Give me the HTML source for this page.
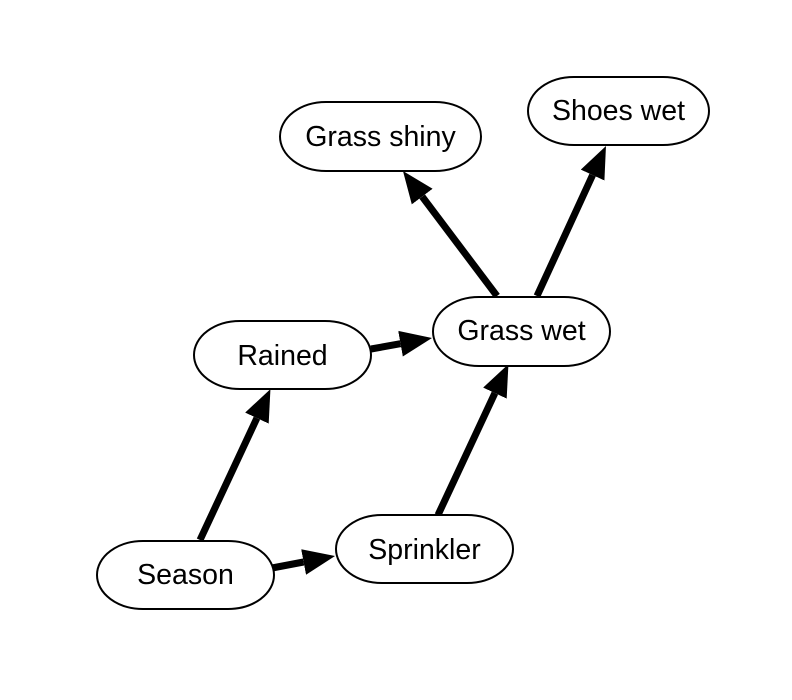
<!DOCTYPE html>
<html><head><meta charset="utf-8"><style>
html,body{margin:0;padding:0;background:#fff;}
svg{display:block;}
text{font-family:"Liberation Sans",sans-serif;font-size:28.5px;fill:#000;}
</style></head><body>
<svg width="792" height="700" viewBox="0 0 792 700" xmlns="http://www.w3.org/2000/svg">
<defs>
<marker id="a" markerUnits="userSpaceOnUse" markerWidth="34" markerHeight="30" refX="0" refY="15" orient="auto">
<path d="M0,2 L32,15 L0,28 z" fill="#000"/>
</marker>
</defs>
<g stroke="#000" stroke-width="7" marker-end="url(#a)">
<line x1="200" y1="540" x2="256.9" y2="418.1"/>
<line x1="272" y1="568" x2="303.6" y2="562"/>
<line x1="438" y1="515" x2="494.9" y2="393.1"/>
<line x1="371" y1="349" x2="400.5" y2="343.7"/>
<line x1="497" y1="296" x2="422.2" y2="196.6"/>
<line x1="537" y1="296" x2="592.6" y2="175.1"/>
</g>
<g fill="#fff" stroke="#000" stroke-width="2">
<rect x="280" y="102" width="201" height="69" rx="46" ry="34.5"/>
<rect x="528" y="77" width="181" height="68" rx="46" ry="34"/>
<rect x="433" y="297" width="177" height="69" rx="46" ry="34.5"/>
<rect x="194" y="321" width="177" height="68" rx="46" ry="34"/>
<rect x="336" y="515" width="177" height="68" rx="46" ry="34"/>
<rect x="97" y="541" width="177" height="68" rx="46" ry="34"/>
</g>
<g text-anchor="middle">
<text x="380.5" y="146">Grass shiny</text>
<text x="618.5" y="120">Shoes wet</text>
<text x="521.5" y="340">Grass wet</text>
<text x="282.5" y="365">Rained</text>
<text x="424.5" y="559">Sprinkler</text>
<text x="185.5" y="584">Season</text>
</g>
</svg>
</body></html>
